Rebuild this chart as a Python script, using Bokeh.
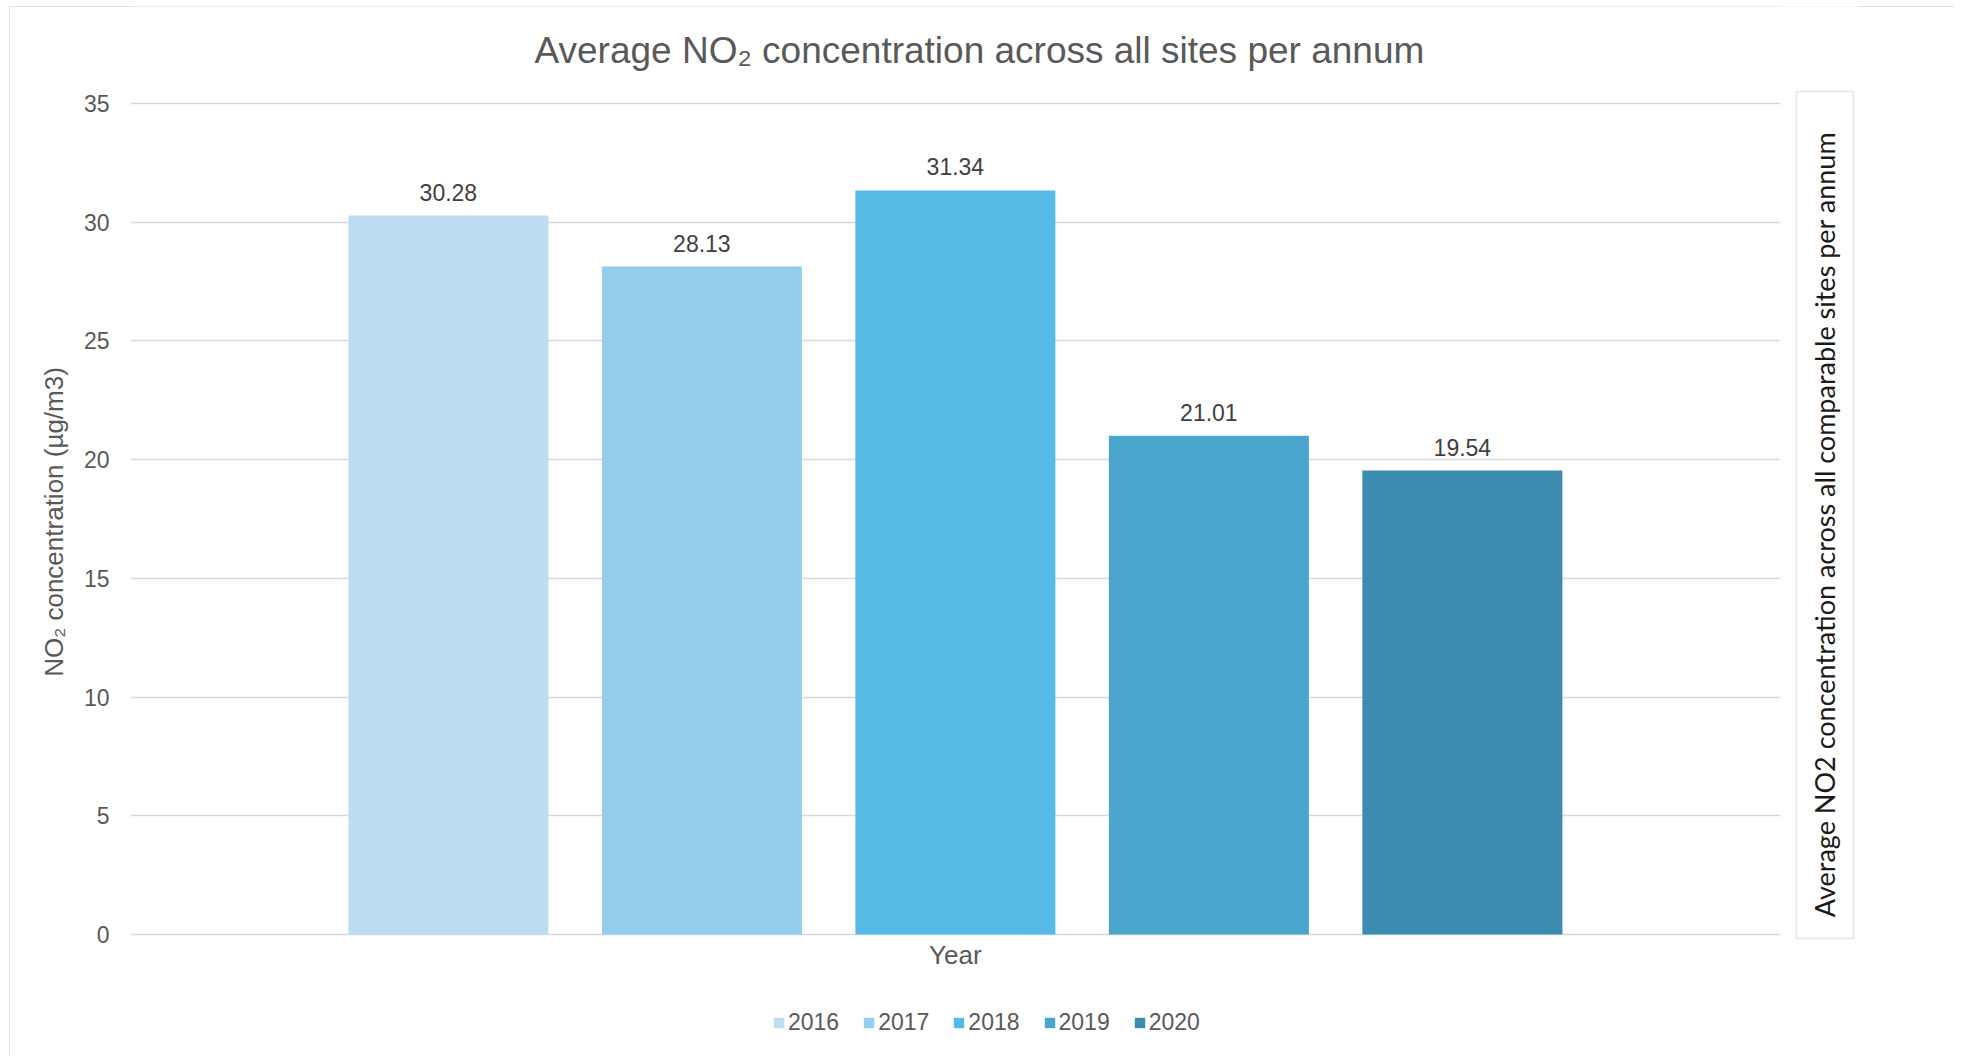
import numpy as np
from bokeh.plotting import figure
from bokeh.models import (ColumnDataSource, Range1d, FixedTicker, BoxAnnotation,
                          Label, LabelSet)
from bokeh.core.properties import value
from bokeh.embed import file_html
from bokeh.resources import INLINE

# ---- data ----
years = ["2016", "2017", "2018", "2019", "2020"]
values = [30.28, 28.13, 31.34, 21.01, 19.54]
value_labels = ["30.28", "28.13", "31.34", "21.01", "19.54"]
colors = ["#BDDEF2", "#95CDEC", "#55BBE6", "#4AA6CD", "#3C8CAF"]
y_ticks = [0, 5, 10, 15, 20, 25, 30, 35]
title_text = "Average NO\u2082 concentration across all sites per annum"
y_label = "NO\u2082 concentration (\u00b5g/m3)"
x_label = "Year"
box_text = "Average NO2 concentration across all comparable sites per annum"

FONT = "Liberation Sans"
GRAY = "#595959"

src = ColumnDataSource(dict(x=list(range(len(years))), top=values, year=years,
                            color=colors, lab=value_labels))

# page offset of the figure (outer chart border drawn as its outline)
OX, OY = 9, 6
W, H = 1945, 1052
FL, FR, FT, FB = 130, 1858, OY, 1037   # frame edges in page pixels
Y0 = 934                               # page y of value 0
PX_PER_UNIT = (934 - 103) / 35.0

p = figure(width=W, height=H, output_backend="svg", toolbar_location=None,
           title=None,
           x_range=Range1d(-1.254, -1.254 + (FR - FL) / 253.5),
           y_range=Range1d(-(FB - Y0) / PX_PER_UNIT, 35 + (103 - FT) / PX_PER_UNIT),
           min_border_left=FL - OX, min_border_right=(OX + W) - FR,
           min_border_top=FT - OY, min_border_bottom=(OY + H) - FB,
           margin=(OY, 0, 0, OX),
           styles={"outline": "1.5px solid #d9d9d9", "outline-offset": "-1px"})
p.outline_line_color = None
p.background_fill_color = "white"
p.border_fill_color = "white"

r = p.vbar(x="x", top="top", width=0.789, color="color", line_color=None,
           source=src, legend_field="year")

labels = LabelSet(x="x", y="top", text="lab", source=src, text_align="center",
                  text_baseline="alphabetic", y_offset=15, text_font=value(FONT),
                  text_font_size=value("23px"), text_color=value("#404040"))
p.add_layout(labels)

# chart title
p.add_layout(Label(x=534 - FL, y=FB - 50, x_units="screen", y_units="screen",
                   text=title_text, text_align="left", text_baseline="middle",
                   text_font=FONT, text_font_size="37px", text_color=GRAY))

# axes
p.yaxis.ticker = FixedTicker(ticks=y_ticks)
p.yaxis.axis_line_color = None
p.yaxis.major_tick_line_color = None
p.yaxis.minor_tick_line_color = None
p.yaxis.major_tick_out = 0
p.yaxis.major_label_standoff = 21
p.yaxis.major_label_text_font = FONT
p.yaxis.major_label_text_font_size = "23px"
p.yaxis.major_label_text_color = GRAY
p.yaxis.axis_label = y_label
p.yaxis.axis_label_text_font = FONT
p.yaxis.axis_label_text_font_size = "26px"
p.yaxis.axis_label_text_font_style = "normal"
p.yaxis.axis_label_text_color = GRAY
p.yaxis.axis_label_standoff = 12

p.xaxis.visible = False
p.xgrid.grid_line_color = None
p.ygrid.grid_line_color = "#d9d9d9"
p.ygrid.grid_line_width = 1.5

# x axis title
p.add_layout(Label(x=2, y=FB - 954, y_units="screen", text=x_label,
                   text_align="center", text_baseline="middle", text_font=FONT,
                   text_font_size="26px", text_color=GRAY))

# legend
leg = p.legend[0]
leg.orientation = "horizontal"
leg.location = (772 - FL, FB - 1036)
leg.padding = 0
leg.margin = 0
leg.spacing = 23
leg.glyph_width = 13
leg.glyph_height = 13
leg.label_standoff = 3
leg.label_text_font = FONT
leg.label_text_font_size = "23px"
leg.label_text_color = GRAY
leg.border_line_color = None
leg.background_fill_alpha = 0

# hide grid beyond the plotting area (frame extends to hold the note box)
plot_right = 1780 - FL
frame_w = FR - FL
frame_h = FB - FT
p.add_layout(BoxAnnotation(left=plot_right, right=frame_w + 5, bottom=-5, top=frame_h + 5,
                           left_units="screen", right_units="screen",
                           bottom_units="screen", top_units="screen",
                           fill_color="white", fill_alpha=1, line_color=None))

# right-side boxed note
p.add_layout(BoxAnnotation(left=1796 - FL, right=1853 - FL, bottom=FB - 938, top=FB - 91,
                           left_units="screen", right_units="screen",
                           bottom_units="screen", top_units="screen",
                           fill_color="white", fill_alpha=1,
                           line_color="#b8b8b8", line_width=2))
p.add_layout(Label(x=1824 - FL, y=FB - 524, x_units="screen", y_units="screen",
                   text=box_text, angle=np.pi / 2, text_align="center",
                   text_baseline="middle", text_font="Lato",
                   text_font_size="27px", text_color="#1a1a1a"))

open("out.html", "w").write(file_html(p, INLINE))
